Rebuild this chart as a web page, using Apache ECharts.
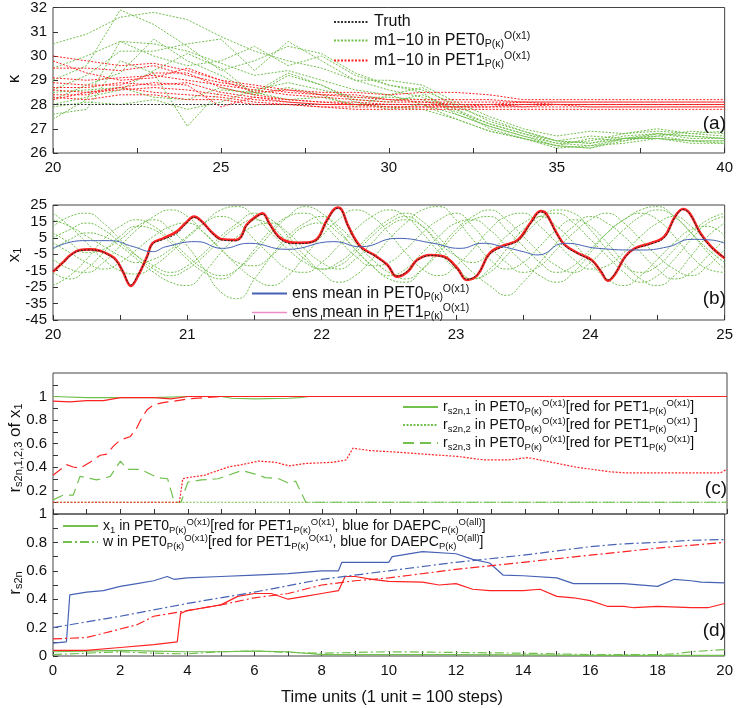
<!DOCTYPE html>
<html>
<head>
<meta charset="utf-8">
<script src="https://cdn.jsdelivr.net/npm/echarts@6/dist/echarts.min.js"></script>
<style>
  html, body { margin: 0; background: #fff; }
  #chart { width: 736px; height: 708px; }
</style>
</head>
<body>
<div id="chart"></div>
<script>
// ---- panel (a): kappa estimates, t = 20..40
var tA = [20, 21, 22, 23, 24, 25, 26, 27, 28, 29, 30, 31, 32, 33, 34, 35, 36, 37, 38, 39, 40];
var tTruthA = [20, 40];
var truthA = [28, 28];
var greenA = [
  [30.5, 30.9, 31.6, 31.8, 31.5, 30.8, 30.2, 29.8, 29.5, 29.0, 28.6, 28.3, 27.8, 27.2, 26.8, 26.5, 26.4, 26.6, 26.7, 26.9, 26.8],
  [29.0, 29.6, 31.9, 31.3, 30.4, 29.4, 29.8, 30.4, 30.1, 29.3, 28.8, 28.5, 27.6, 27.1, 26.7, 26.3, 26.6, 26.5, 26.8, 26.7, 26.6],
  [27.4, 28.2, 30.6, 30.5, 30.2, 29.7, 29.2, 29.4, 29.0, 28.6, 28.4, 28.0, 27.4, 26.9, 26.6, 26.2, 26.3, 26.4, 26.6, 26.5, 26.5],
  [28.6, 29.2, 30.2, 30.2, 30.5, 30.7, 29.4, 30.6, 29.8, 29.0, 29.0, 28.8, 28.1, 27.5, 27.0, 26.7, 26.9, 26.8, 27.0, 26.8, 26.9],
  [29.5, 30.0, 30.6, 30.0, 29.6, 29.8, 30.4, 29.6, 30.0, 29.2, 28.8, 28.6, 28.0, 27.3, 26.9, 26.5, 26.7, 26.6, 26.8, 26.7, 26.6],
  [28.2, 28.8, 29.3, 30.7, 29.8, 29.2, 28.5, 29.3, 28.8, 28.2, 28.1, 28.4, 27.8, 27.0, 26.6, 26.3, 26.2, 26.6, 26.6, 26.4, 26.4],
  [28.0, 28.3, 28.6, 29.4, 30.1, 29.5, 28.4, 28.7, 28.4, 27.9, 28.4, 28.7, 27.9, 27.4, 26.9, 26.5, 26.4, 26.7, 26.8, 26.6, 26.6],
  [27.6, 27.8, 29.8, 29.3, 27.1, 28.6, 28.5, 28.2, 28.3, 28.0, 27.9, 27.8, 27.4, 26.9, 26.6, 26.3, 26.2, 26.5, 26.7, 26.5, 26.4],
  [28.5, 28.6, 28.7, 28.3, 28.2, 28.7, 28.4, 29.2, 28.8, 28.1, 27.8, 28.0, 27.6, 27.1, 26.7, 26.4, 26.3, 26.6, 26.6, 26.5, 26.5],
  [27.9, 28.1, 28.0, 28.2, 27.8, 28.1, 28.6, 28.9, 28.6, 28.3, 28.3, 28.2, 27.7, 27.2, 26.8, 26.4, 26.5, 26.8, 26.9, 26.8, 26.7]
];
var redA = [
  [30.0, 29.8, 29.6, 29.7, 29.4, 29.0, 28.8, 28.6, 28.5, 28.5, 28.4, 28.5, 28.5, 28.4, 28.2, 28.2, 28.2, 28.2, 28.2, 28.2, 28.2],
  [29.5, 29.5, 29.4, 29.6, 29.2, 28.9, 28.7, 28.5, 28.4, 28.3, 28.2, 28.2, 28.2, 28.2, 28.1, 28.1, 28.1, 28.1, 28.1, 28.1, 28.1],
  [29.1, 29.0, 29.1, 29.2, 29.0, 28.8, 28.6, 28.4, 28.3, 28.2, 28.1, 28.1, 28.1, 28.1, 28.1, 28.1, 28.1, 28.1, 28.1, 28.1, 28.1],
  [28.9, 28.8, 28.8, 29.3, 29.3, 28.7, 28.4, 28.2, 28.1, 28.1, 28.0, 28.0, 28.0, 28.0, 28.0, 28.0, 28.0, 28.0, 28.0, 28.0, 28.0],
  [28.7, 28.7, 28.9, 28.8, 28.9, 28.5, 28.3, 28.2, 28.1, 28.0, 28.0, 28.0, 27.9, 28.0, 28.0, 28.0, 28.0, 28.0, 28.0, 28.0, 28.0],
  [28.6, 28.5, 28.6, 28.7, 28.6, 28.4, 28.2, 28.1, 28.0, 28.0, 27.9, 27.9, 27.9, 27.9, 27.9, 27.9, 27.9, 27.9, 27.9, 27.9, 27.9],
  [28.4, 28.4, 28.7, 28.5, 28.4, 28.3, 28.1, 28.0, 27.9, 27.9, 27.9, 27.9, 27.9, 27.9, 28.0, 28.0, 28.0, 28.0, 28.0, 28.0, 28.0],
  [28.3, 28.2, 28.4, 28.4, 28.2, 28.2, 28.0, 28.0, 27.9, 27.8, 27.8, 27.8, 27.8, 27.8, 27.8, 27.8, 27.8, 27.8, 27.8, 27.8, 27.8],
  [29.8, 29.3, 29.0, 29.1, 29.5, 29.0, 28.5, 28.6, 28.4, 28.4, 28.2, 28.1, 28.0, 28.0, 28.1, 28.0, 28.0, 28.0, 28.0, 28.0, 28.0],
  [28.2, 28.5, 28.7, 28.9, 28.8, 27.9, 28.3, 28.1, 28.0, 28.0, 28.0, 28.0, 28.0, 28.0, 27.9, 28.0, 27.9, 27.9, 27.9, 27.9, 27.9]
];

// ---- panel (b): x1, t = 20..25
var tB = [20, 20.125, 20.25, 20.375, 20.5, 20.625, 20.75, 20.875, 21, 21.125,
          21.25, 21.375, 21.5, 21.625, 21.75, 21.875, 22, 22.125, 22.25, 22.375,
          22.5, 22.625, 22.75, 22.875, 23, 23.125, 23.25, 23.375, 23.5, 23.625,
          23.75, 23.875, 24, 24.125, 24.25, 24.375, 24.5, 24.625, 24.75, 24.875, 25];
var greenB = [
  [20, 12, 2, -8, -15, -17, -12, -4, 5, 14, 22, 24, 18, 8, -2, -10, -14, -10, -2, 8, 16, 20, 15, 5, -6, -16, -24, -30, -22, -10, 2, 12, 18, 14, 6, -4, -14, -20, -16, -6, 4],
  [-24, -18, -8, 4, 12, 16, 12, 4, -6, -14, -18, -14, -4, 8, 18, 24, 20, 10, -2, -12, -20, -22, -14, -2, 10, 18, 22, 16, 6, -4, -12, -16, -10, 0, 10, 18, 22, 18, 8, -4, -14],
  [5, 10, 14, 10, 2, -6, -12, -16, -12, -4, 6, 14, 20, 16, 6, -6, -16, -22, -18, -8, 4, 14, 22, 24, 16, 4, -8, -14, -10, 0, 10, 16, 12, 2, -10, -20, -24, -18, -6, 6, 14],
  [12, 18, 20, 14, 4, -6, -14, -18, -14, -6, 4, 12, 16, 12, 2, -8, -14, -12, -4, 6, 14, 18, 12, 0, -12, -20, -16, -6, 6, 16, 22, 20, 10, -2, -12, -16, -12, -2, 8, 16, 20],
  [-8, -14, -16, -10, 0, 10, 18, 22, 18, 8, -2, -10, -12, -6, 4, 12, 14, 8, -2, -12, -18, -14, -4, 6, 14, 16, 10, 0, -10, -18, -22, -16, -4, 8, 16, 20, 16, 6, -6, -14, -16],
  [2, -4, -10, -14, -10, -2, 6, 12, 14, 8, -2, -12, -20, -24, -18, -6, 6, 16, 22, 18, 8, -4, -14, -18, -12, -2, 10, 18, 20, 12, 2, -8, -14, -12, -4, 6, 14, 18, 12, 2, -8],
  [16, 12, 6, 0, -6, -10, -8, -2, 6, 14, 18, 14, 4, -6, -14, -16, -10, 0, 10, 18, 22, 18, 8, -4, -14, -20, -14, -2, 10, 18, 20, 14, 4, -6, -16, -22, -18, -8, 4, 14, 18],
  [-16, -20, -14, -4, 6, 12, 10, 2, -8, -16, -20, -14, -2, 10, 18, 20, 14, 4, -6, -12, -10, -2, 8, 16, 20, 12, 0, -10, -16, -12, -2, 8, 16, 20, 14, 4, -6, -14, -18, -12, -2],
  [8, 2, -4, -2, 4, 12, 16, 10, 0, -14, -28, -32, -20, -6, 6, 14, 18, 12, 2, -8, -16, -20, -14, -4, 8, 16, 18, 10, 0, -10, -16, -12, -2, 8, 16, 22, 24, 18, 8, -2, -10],
  [-2, 4, 8, 6, 0, -8, -16, -22, -24, -16, -4, 6, 12, 14, 8, -2, -10, -14, -8, 2, 12, 16, 12, 2, -6, -10, -4, 6, 14, 18, 12, 2, -10, -20, -24, -18, -8, 2, 10, 12, 6]
];
var tRedB = [20.0, 20.08, 20.13, 20.2, 20.27, 20.35, 20.42, 20.47, 20.52, 20.58, 20.63, 20.7, 20.74, 20.82, 20.92,
             20.99, 21.05, 21.11, 21.19, 21.26, 21.36, 21.4, 21.44, 21.51, 21.56, 21.61, 21.68, 21.76, 21.82, 21.89,
             21.97, 22.04, 22.12, 22.15, 22.2, 22.29, 22.39, 22.49, 22.56, 22.64, 22.71, 22.81, 22.91, 23.01, 23.08,
             23.16, 23.25, 23.35, 23.46, 23.56, 23.63, 23.67, 23.75, 23.81, 23.91, 24.01, 24.08, 24.13, 24.18, 24.26,
             24.33, 24.45, 24.55, 24.63, 24.69, 24.74, 24.82, 24.9, 25.0];
var redMeanB = [-15.6, -9.5, -5.4, -2.4, -2.0, -2.8, -5.4, -8.5, -15.6, -24.3, -18.6, -6.4, 1.7, 4.7, 8.8,
                14.2, 17.9, 14.8, 7.8, 4.1, 3.7, 5.7, 12.8, 17.9, 19.9, 13.9, 5.7, 2.4, 2.0, 2.1,
                4.7, 15.9, 23.5, 22.0, 11.8, -0.4, -5.4, -11.5, -18.6, -15.6, -8.5, -5.4, -6.4, -13.5, -20.6,
                -17.6, -4.4, 0.2, 3.7, 14.8, 21.3, 19.9, 7.8, 0.7, -4.4, -8.5, -15.6, -21.1, -17.6, -6.4,
                -1.4, 1.7, 5.7, 17.9, 22.6, 19.9, 7.8, -0.4, -7.4];
var truthB = [-15.2, -9.8, -5.8, -2.8, -2.4, -3.0, -5.8, -9.0, -15.2, -23.6, -18.0, -6.8, 1.2, 4.0, 7.6,
              13.6, 17.4, 14.4, 7.4, 3.6, 3.2, 5.2, 12.2, 17.4, 19.4, 13.4, 5.2, 1.6, 1.4, 1.8,
              4.2, 15.4, 23.0, 21.6, 11.4, -0.8, -5.8, -11.8, -18.2, -15.2, -8.8, -5.8, -6.9, -13.9, -20.2,
              -17.2, -5.0, -0.4, 3.2, 14.2, 20.8, 19.4, 7.4, 0.2, -4.8, -8.9, -15.2, -20.6, -17.2, -6.8,
              -1.8, 1.2, 5.0, 17.4, 22.2, 19.6, 7.4, -0.8, -7.0];
var tBlueB = [20.0, 20.22, 20.42, 20.6, 20.74, 20.84, 21.07, 21.26, 21.46, 21.74, 22.09, 22.29, 22.56,
              22.83, 23.03, 23.2, 23.35, 23.5, 23.61, 23.81, 24.06, 24.36, 24.58, 24.75, 24.9, 25.0];
var blueMeanB = [-1.4, 3.3, 3.3, -0.4, -3.4, -0.4, 2.7, -1.4, 1.7, -2.0, 2.7, -0.4, 4.7,
                 1.7, -1.4, 1.7, -0.4, -3.4, -5.4, 1.7, -1.4, -2.4, -0.4, 4.1, 3.7, 1.7];

// ---- panel (c): r_s2n,1,2,3 of x1, t = 0..20
var tC1g = [0, 1, 2, 3, 4, 5, 5.3, 6, 7, 7.3, 7.6, 8, 20];
var c1g  = [1.0, 0.99, 0.99, 0.99, 1.0, 1.0, 0.985, 0.98, 0.985, 0.99, 1.0, 1.0, 1.0];
var tC1r = [0, 0.5, 1, 1.5, 2, 2.5, 3, 3.5, 4, 5, 20];
var c1r  = [0.96, 0.955, 0.965, 0.965, 0.99, 0.99, 0.99, 0.98, 1.0, 1.0, 1.0];
var tC2g = [0, 20];
var c2g  = [0.1, 0.1];
var tC2r = [0, 3.75, 3.85, 4.0, 4.5, 5.2, 5.6, 6.1, 6.6, 7.0, 7.5, 8.3, 8.7, 8.9, 9.4, 10, 11, 12, 12.8, 13.5,
            14.1, 14.8, 15.5, 16.5, 17, 18, 19, 19.8, 20];
var c2r  = [0.1, 0.1, 0.3, 0.31, 0.33, 0.4, 0.42, 0.45, 0.44, 0.41, 0.43, 0.44, 0.46, 0.56, 0.54, 0.53, 0.51, 0.49, 0.46, 0.46,
            0.48, 0.44, 0.40, 0.36, 0.35, 0.35, 0.35, 0.35, 0.38];
var tC3r = [0, 0.4, 0.6, 0.8, 1.1, 1.4, 1.6, 1.8, 2.0, 2.3, 2.5, 2.6, 2.8, 3.0, 3.3, 3.6, 4.0, 5.0, 20];
var c3r  = [0.33, 0.42, 0.40, 0.39, 0.44, 0.50, 0.51, 0.58, 0.63, 0.66, 0.74, 0.80, 0.89, 0.93, 0.95, 0.96, 0.98, 1.0, 1.0];
var tC3g = [0, 0.3, 0.6, 0.8, 1.3, 1.7, 2.0, 2.2, 2.6, 3.1, 3.4, 3.6, 3.8, 4.0, 4.4, 4.9, 5.2, 5.6, 6.0, 6.3,
            6.7, 7.0, 7.2, 7.5, 20];
var c3g  = [0.12, 0.16, 0.16, 0.32, 0.29, 0.32, 0.45, 0.38, 0.38, 0.31, 0.30, 0.1, 0.1, 0.27, 0.29, 0.30, 0.33, 0.37, 0.34, 0.31,
            0.30, 0.26, 0.28, 0.1, 0.1];

// ---- panel (d): r_s2n of x1 and w
var tDx1b = [0, 0.4, 0.5, 1, 1.5, 2, 2.5, 3, 3.4, 3.6, 4, 5, 6, 7, 8, 8.5, 8.6, 9, 10, 10.1, 11, 12, 12.5, 13, 13.4,
             14, 15, 15.5, 16, 17, 18, 18.5, 19, 19.3, 20];
var dx1b  = [0.09, 0.1, 0.43, 0.45, 0.46, 0.49, 0.51, 0.53, 0.56, 0.54, 0.55, 0.56, 0.57, 0.58, 0.6, 0.6, 0.66, 0.66, 0.66, 0.7, 0.735, 0.72, 0.68, 0.655, 0.57,
             0.565, 0.55, 0.51, 0.51, 0.51, 0.49, 0.54, 0.53, 0.52, 0.515];
var tDx1r = [0, 1, 2, 3, 3.7, 3.8, 4, 4.5, 5, 5.5, 6, 6.5, 7, 7.5, 8, 8.5, 8.7, 9, 9.5, 10, 11, 11.5, 12, 12.5, 13,
             14, 14.5, 15, 15.5, 16, 16.5, 17, 17.3, 18, 19, 19.5, 20];
var dx1r  = [0.04, 0.04, 0.06, 0.08, 0.1, 0.3, 0.32, 0.34, 0.36, 0.42, 0.44, 0.44, 0.40, 0.42, 0.44, 0.46, 0.56, 0.56, 0.54, 0.525, 0.52, 0.5, 0.51, 0.47, 0.46,
             0.46, 0.47, 0.42, 0.41, 0.39, 0.35, 0.35, 0.34, 0.35, 0.34, 0.34, 0.37];
var tDx1g = [0, 1, 2, 3, 4, 5, 6, 7, 8, 9, 10, 12, 14, 16, 18, 20];
var dx1g  = [0.03, 0.035, 0.04, 0.035, 0.03, 0.03, 0.035, 0.03, 0.01, 0.01, 0.01, 0.01, 0.008, 0.005, 0.005, 0.005];
var tDwb = [0, 2, 4, 6, 8, 10, 12, 14, 16, 17, 18, 19, 20];
var dwb  = [0.2, 0.28, 0.37, 0.45, 0.54, 0.6, 0.66, 0.71, 0.77, 0.79, 0.8, 0.815, 0.82];
var tDwr = [0, 1, 2, 2.5, 3, 4, 5, 6, 7, 8, 9, 10, 12, 14, 16, 18, 20];
var dwr  = [0.12, 0.13, 0.19, 0.22, 0.28, 0.32, 0.36, 0.41, 0.44, 0.5, 0.53, 0.55, 0.61, 0.66, 0.71, 0.76, 0.8];
var tDwg = [0, 1, 2, 3, 4, 5, 6, 7, 8, 10, 12, 14, 16, 18, 18.5, 19, 20];
var dwg  = [0.01, 0.02, 0.03, 0.02, 0.015, 0.03, 0.035, 0.025, 0.02, 0.03, 0.025, 0.02, 0.01, 0.01, 0.015, 0.03, 0.045];

var yTicksB = [-45, -35, -25, -15, -5, 5, 15, 25];
var yLabelsC = [0.2, 0.4, 0.6, 0.8, 1];
var yTicksC = [0.1, 0.2, 0.3, 0.4, 0.5, 0.6, 0.7, 0.8, 0.9, 1.0, 1.1];

var font = 'Liberation Sans, Arial, sans-serif';
var GREEN = '#72c04e', RED = '#ff2222', BLUE = '#4662b4', BLACK = '#333';
var DOT = [2, 1.5];
var DASH = [11, 6];
var DASHDOT = [9, 3, 2, 3];

function richFor(size) {
  return {
    s: { fontSize: size, fontFamily: font, color: '#111', padding: [8, 0, 0, 0] },
    p: { fontSize: size, fontFamily: font, color: '#111', padding: [0, 0, 8, 0] }
  };
}
var PK = '{s|P(κ)}{p|O(x1)}';
var legendText = {
  'Truth': 'Truth',
  'm1−10 in PET0': 'm1−10 in PET0' + PK,
  'm1−10 in PET1': 'm1−10 in PET1' + PK,
  'ens mean in PET0': 'ens mean in PET0' + PK,
  'ens mean in PET1': 'ens mean in PET1' + PK,
  'rs1': 'r{s|s2n,1} in PET0' + PK + '[red for PET1' + PK + ']',
  'rs2': 'r{s|s2n,2} in PET0' + PK + '[red for PET1' + PK + ' ]',
  'rs3': 'r{s|s2n,3} in PET0' + PK + '[red for PET1' + PK + ']',
  'x1': 'x{s|1} in PET0' + PK + '[red for PET1' + PK + ', blue for DAEPC{s|P(κ)}{p|O(all)}]',
  'w': 'w in PET0' + PK + '[red for PET1' + PK + ', blue for DAEPC{s|P(κ)}{p|O(all)}]'
};

function pairs(t, v) {
  return t.map(function (x, i) { return [x, v[i]]; });
}

function line(name, idx, data, color, type, width, smooth) {
  return {
    name: name,
    type: 'line',
    xAxisIndex: idx,
    yAxisIndex: idx,
    data: data,
    symbol: 'none',
    smooth: smooth || false,
    animation: false,
    lineStyle: { color: color, type: type, width: width || 1 },
    itemStyle: { color: color }
  };
}

function legend(left, top, names, gap, size, subSize) {
  return {
    left: left, top: top, orient: 'vertical',
    itemWidth: 35, itemHeight: 12, itemGap: gap,
    selectedMode: false,
    itemStyle: { opacity: 0 },
    textStyle: { fontSize: size, fontFamily: font, color: '#111', rich: richFor(subSize) },
    formatter: function (n) { return legendText[n]; },
    data: names
  };
}

function xAx(gi, min, max, interval, showLabel) {
  return {
    type: 'value', gridIndex: gi, min: min, max: max, interval: interval,
    axisLine: { show: false, onZero: false },
    axisTick: { inside: true, length: 5, lineStyle: { color: '#333' } },
    minorTick: { show: true, splitNumber: 2, length: 5, lineStyle: { color: '#333' } },
    splitLine: { show: false },
    axisLabel: { show: showLabel, fontSize: 15, fontFamily: font, color: '#111', margin: 7 }
  };
}

function yAx(gi, min, max, interval) {
  return {
    type: 'value', gridIndex: gi, min: min, max: max, interval: interval,
    axisLine: { show: false, onZero: false },
    axisTick: { inside: true, length: 5, lineStyle: { color: '#333' } },
    splitLine: { show: false },
    axisLabel: { fontSize: 15, fontFamily: font, color: '#111', margin: 6 }
  };
}

var series = [];
// (a)
greenA.forEach(function (g) { series.push(line('m1−10 in PET0', 0, pairs(tA, g), GREEN, DOT, 1)); });
series.push(line('Truth', 0, pairs(tTruthA, truthA), BLACK, DOT, 1));
redA.forEach(function (r) { series.push(line('m1−10 in PET1', 0, pairs(tA, r), RED, DOT, 1)); });
// (b)
greenB.forEach(function (g, i) { series.push(line('b member ' + i, 1, pairs(tB, g), GREEN, DOT, 1, 0.5)); });
series.push(line('ens mean in PET1', 1, pairs(tRedB, redMeanB), RED, 'solid', 2.6, 0.4));
series.push(line('b truth', 1, pairs(tRedB, truthB), '#222', DOT, 1, 0.4));
series.push(line('ens mean in PET0', 1, pairs(tBlueB, blueMeanB), BLUE, 'solid', 1, 0.5));
// (c)
series.push(line('rs1', 2, pairs(tC1g, c1g), GREEN, 'solid', 1.2));
series.push(line('rs2', 2, pairs(tC2g, c2g), GREEN, DOT, 1.2));
series.push(line('rs3', 2, pairs(tC3g, c3g), GREEN, DASH, 1.2));
series.push(line('c r1 red', 2, pairs(tC1r, c1r), RED, 'solid', 1.2));
series.push(line('c r2 red', 2, pairs(tC2r, c2r), RED, DOT, 1.2));
series.push(line('c r3 red', 2, pairs(tC3r, c3r), RED, DASH, 1.2));
// (d)
series.push(line('x1', 3, pairs(tDx1g, dx1g), GREEN, 'solid', 1.2));
series.push(line('w', 3, pairs(tDwg, dwg), GREEN, DASHDOT, 1.2));
series.push(line('d x1 red', 3, pairs(tDx1r, dx1r), RED, 'solid', 1.2));
series.push(line('d x1 blue', 3, pairs(tDx1b, dx1b), BLUE, 'solid', 1.2));
series.push(line('d w red', 3, pairs(tDwr, dwr), RED, DASHDOT, 1.2));
series.push(line('d w blue', 3, pairs(tDwb, dwb), BLUE, DASHDOT, 1.2));

var yB = yAx(1, -45, 25);
yB.axisLabel.customValues = yTicksB;
yB.axisTick.customValues = yTicksB;
var yC = yAx(2, 0, 1.2);
yC.axisLabel.customValues = yLabelsC;
yC.axisTick.customValues = yTicksC;
var yD = yAx(3, 0, 1, 0.2);
yD.minorTick = { show: true, splitNumber: 2, length: 5, lineStyle: { color: '#333' } };

var gridBox = { show: true, borderColor: '#444', borderWidth: 1, backgroundColor: 'transparent' };

function txt(text, x, y, size, rot, align) {
  return {
    type: 'text', x: x, y: y, rotation: rot || 0, z: 100,
    style: {
      text: text, fontSize: size, fontFamily: font, fill: '#111',
      align: align || 'center', verticalAlign: 'middle', rich: richFor(11)
    }
  };
}

var chart = echarts.init(document.getElementById('chart'));
chart.setOption({
  backgroundColor: '#fff',
  animation: false,
  grid: [
    Object.assign({ left: 53, top: 5, width: 674, height: 148 }, gridBox),
    Object.assign({ left: 53, top: 205, width: 674, height: 115 }, gridBox),
    Object.assign({ left: 53, top: 373, width: 674, height: 141 }, gridBox),
    Object.assign({ left: 53, top: 514, width: 674, height: 142 }, gridBox)
  ],
  xAxis: [
    xAx(0, 20, 40, 5, true),
    xAx(1, 20, 25, 1, true),
    xAx(2, 0, 20, 2, false),
    xAx(3, 0, 20, 2, true)
  ],
  yAxis: [yAx(0, 26, 32, 1), yB, yC, yD],
  legend: [
    legend(328, 9, ['Truth', 'm1−10 in PET0', 'm1−10 in PET1'], 1, 16, 10.5),
    legend(246, 279, ['ens mean in PET0', { name: 'ens mean in PET1', lineStyle: { color: '#ea8cc6', width: 1.5 } }], 0, 16, 10.5),
    legend(397, 393, ['rs1', 'rs2', 'rs3'], 0, 14, 9.5),
    legend(57, 512, ['x1', 'w'], -2, 14, 9.5)
  ],
  graphic: [
    txt('(a)', 726, 124, 19, 0, 'right'),
    txt('(b)', 726, 299, 19, 0, 'right'),
    txt('(c)', 727, 489, 19, 0, 'right'),
    txt('(d)', 726, 631, 19, 0, 'right'),
    txt('κ', 14, 79, 17, Math.PI / 2),
    txt('x{s|1}', 14, 255, 17, Math.PI / 2),
    txt('r{s|s2n,1,2,3} of x{s|1}', 15, 448, 17, Math.PI / 2),
    txt('r{s|s2n}', 15, 583, 17, Math.PI / 2),
    txt('Time units (1 unit = 100 steps)', 392, 697, 16.5, 0)
  ],
  series: series
});
</script>
</body>
</html>
